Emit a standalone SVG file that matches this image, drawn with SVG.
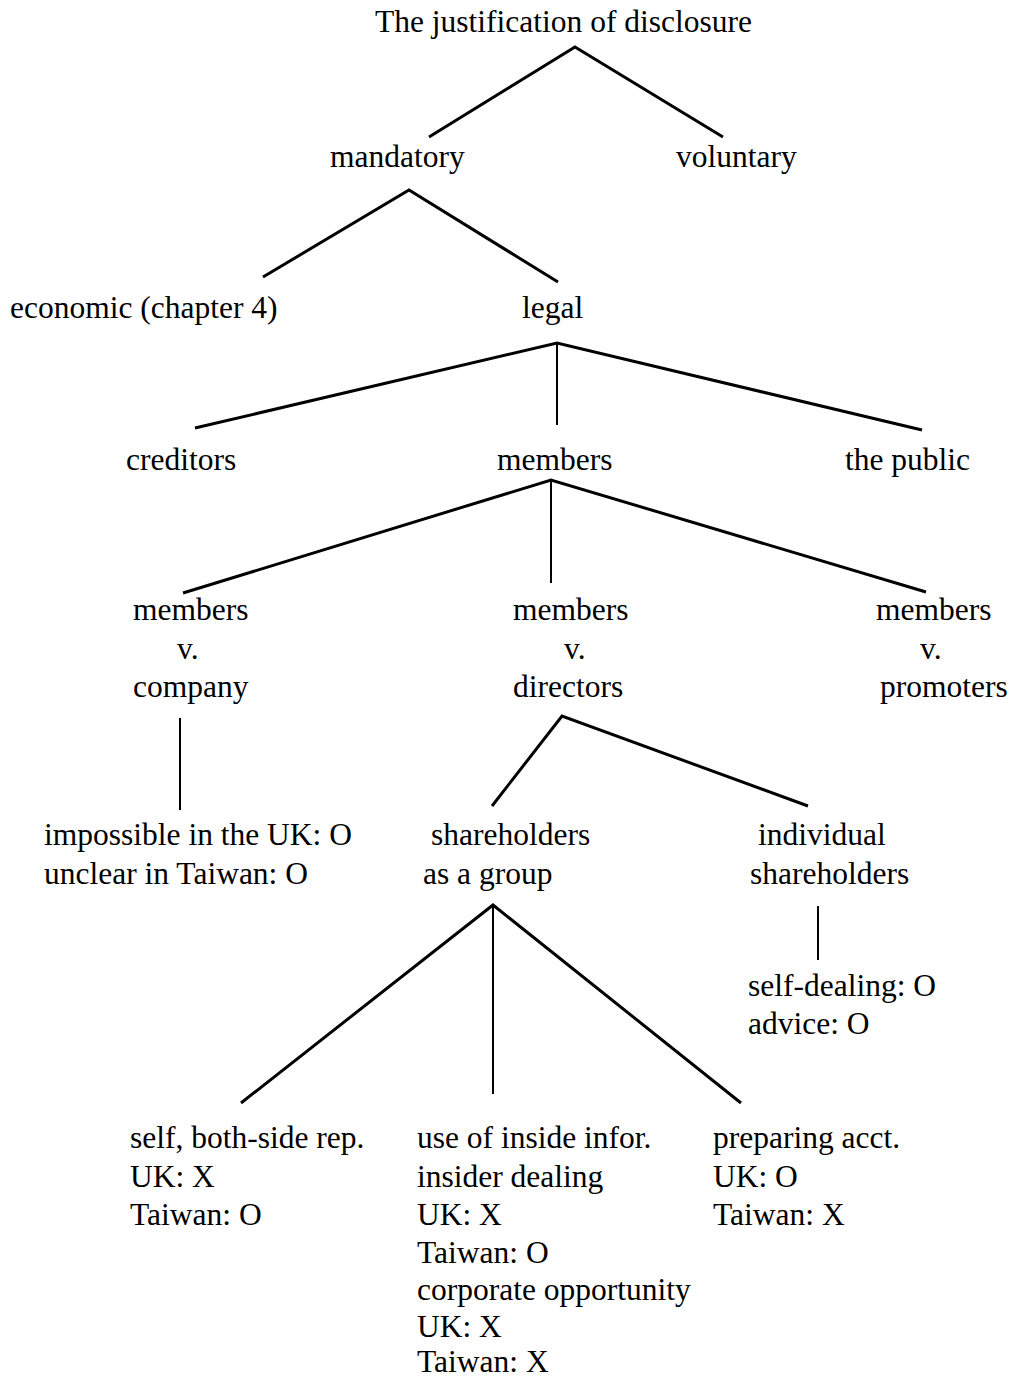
<svg xmlns="http://www.w3.org/2000/svg" width="1015" height="1379" viewBox="0 0 1015 1379">
<style>
text{font-family:"Liberation Serif","Times New Roman",serif;font-size:31.5px;fill:#000}
.d{stroke:#000;stroke-width:3;fill:none;stroke-linecap:butt}
.v{stroke:#000;stroke-width:2;fill:none}
</style>
<rect width="1015" height="1379" fill="#fff"/>
<g id="connectors">
<path class="d" d="M429 137L575 47L723 137"/>
<path class="d" d="M263 277L409 190L558 282"/>
<path class="d" d="M195 428L557 343L922 430"/>
<path class="v" d="M557 343V425"/>
<path class="d" d="M183 593L551 480L926 592"/>
<path class="v" d="M551 480V583"/>
<path class="v" d="M180 718V810"/>
<path class="d" d="M492 806L562 716L808 806"/>
<path class="v" d="M818 906V960"/>
<path class="d" d="M241 1103L493 905L741 1103"/>
<path class="v" d="M493 905V1094"/>
</g>
<g id="n-root"><text x="375" y="32">The justification of disclosure</text></g>
<g id="n-mandatory"><text x="330" y="167">mandatory</text></g>
<g id="n-voluntary"><text x="676" y="167">voluntary</text></g>
<g id="n-economic"><text x="10" y="318">economic (chapter 4)</text></g>
<g id="n-legal"><text x="522" y="318">legal</text></g>
<g id="n-creditors"><text x="126" y="470">creditors</text></g>
<g id="n-members"><text x="497" y="470">members</text></g>
<g id="n-public"><text x="845" y="470">the public</text></g>
<g id="n-mvc"><text x="133" y="620">members</text><text x="177" y="659">v.</text><text x="133" y="697">company</text></g>
<g id="n-mvd"><text x="513" y="620">members</text><text x="564" y="659">v.</text><text x="513" y="697">directors</text></g>
<g id="n-mvp"><text x="876" y="620">members</text><text x="920" y="659">v.</text><text x="880" y="697">promoters</text></g>
<g id="n-impossible"><text x="44" y="845">impossible in the UK: O</text><text x="44" y="884">unclear in Taiwan: O</text></g>
<g id="n-group"><text x="431" y="845">shareholders</text><text x="423" y="884">as a group</text></g>
<g id="n-individual"><text x="758" y="845">individual</text><text x="750" y="884">shareholders</text></g>
<g id="n-selfdealing"><text x="748" y="996">self-dealing: O</text><text x="748" y="1034">advice: O</text></g>
<g id="n-self"><text x="130" y="1148">self, both-side rep.</text><text x="130" y="1187">UK: X</text><text x="130" y="1225">Taiwan: O</text></g>
<g id="n-inside"><text x="417" y="1148">use of inside infor.</text><text x="417" y="1187">insider dealing</text><text x="417" y="1225">UK: X</text><text x="417" y="1263">Taiwan: O</text><text x="417" y="1300">corporate opportunity</text><text x="417" y="1337">UK: X</text><text x="417" y="1372">Taiwan: X</text></g>
<g id="n-prep"><text x="713" y="1148">preparing acct.</text><text x="713" y="1187">UK: O</text><text x="713" y="1225">Taiwan: X</text></g>
</svg>
